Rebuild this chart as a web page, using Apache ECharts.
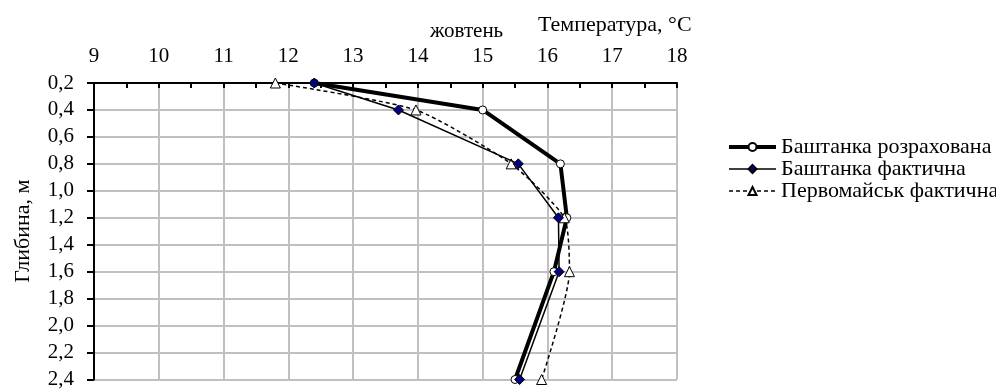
<!DOCTYPE html>
<html>
<head>
<meta charset="utf-8">
<script src="https://cdn.jsdelivr.net/npm/echarts@6/dist/echarts.min.js"></script>
<style>
html,body{margin:0;padding:0;background:#fff;}
#chart{width:996px;height:390px;}
</style>
</head>
<body>
<div id="chart"></div>
<script>
// Depths (m)
const depths = [0.2, 0.4, 0.8, 1.2, 1.6, 2.4];
// Temperatures (°C)
const bashtankaCalc = [12.4, 15.0, 16.2, 16.3, 16.1, 15.5];
const bashtankaFact = [12.4, 13.7, 15.55, 16.17, 16.18, 15.57];
const pervomaiskFact = [11.8, 13.97, 15.44, 16.26, 16.34, 15.91];
const seriesNames = ['Баштанка розрахована', 'Баштанка фактична', 'Первомайськ фактична'];
const xTitle = 'Температура, °C';
const monthLabel = 'жовтень';
const yTitle = 'Глибина, м';

const FONT = "'Liberation Serif', 'Times New Roman', serif";
const pair = (xs) => xs.map((v, i) => [v, depths[i]]);
const legendText = {fontFamily: FONT, fontSize: 22, lineHeight: 17, color: '#000'};

const chart = echarts.init(document.getElementById('chart'));
chart.setOption({
  animation: false,
  backgroundColor: '#fff',
  textStyle: {fontFamily: FONT, color: '#000'},
  grid: {left: 94, right: 319, top: 83, bottom: 6, containLabel: false},
  legend: {
    orient: 'vertical',
    left: 722, top: 131,
    itemWidth: 47, itemHeight: 10, itemGap: 0,
    textStyle: legendText,
    data: [
      {name: seriesNames[0], lineStyle: {width: 4}, textStyle: legendText},
      {name: seriesNames[1], lineStyle: {width: 1.5}, textStyle: legendText},
      {name: seriesNames[2], lineStyle: {width: 1.5}, textStyle: legendText}
    ]
  },
  xAxis: {
    type: 'value', position: 'top',
    min: 9, max: 18, interval: 1,
    axisLine: {show: true, onZero: false, lineStyle: {color: '#000', width: 2}},
    axisTick: {show: true, inside: true, length: 5, lineStyle: {color: '#000', width: 2}},
    minorTick: {show: true, splitNumber: 2, length: 5, lineStyle: {color: '#000', width: 2}},
    axisLabel: {fontFamily: FONT, fontSize: 21, color: '#000', margin: 16},
    splitLine: {show: true, lineStyle: {color: '#c0c0c0', width: 2}}
  },
  yAxis: {
    type: 'value', inverse: true,
    min: 0.2, max: 2.4, interval: 0.2,
    name: yTitle, nameLocation: 'middle', nameRotate: 90, nameGap: 60,
    nameTextStyle: {fontFamily: FONT, fontSize: 22, color: '#000'},
    axisLine: {show: true, onZero: false, lineStyle: {color: '#000', width: 2}},
    axisTick: {show: true, length: 7, lineStyle: {color: '#000', width: 2}},
    axisLabel: {fontFamily: FONT, fontSize: 21, color: '#000', margin: 20,
      formatter: v => v.toFixed(1).replace('.', ',')},
    splitLine: {show: true, lineStyle: {color: '#c0c0c0', width: 2}}
  },
  graphic: [
    {type: 'text', left: 430, top: 21, style: {text: monthLabel, fontFamily: FONT, fontSize: 21, fill: '#000'}},
    {type: 'text', left: 538, top: 14, style: {text: xTitle, fontFamily: FONT, fontSize: 22, fill: '#000'}}
  ],
  series: [
    {
      name: seriesNames[0], type: 'line', data: pair(bashtankaCalc), z: 2,
      symbol: 'circle', symbolSize: 8,
      lineStyle: {color: '#000', width: 4},
      itemStyle: {color: '#fff', borderColor: '#000', borderWidth: 1}
    },
    {
      name: seriesNames[1], type: 'line', data: pair(bashtankaFact), z: 4,
      symbol: 'diamond', symbolSize: 10,
      lineStyle: {color: '#000', width: 1.5},
      itemStyle: {color: '#000080', borderColor: '#000', borderWidth: 1}
    },
    {
      name: seriesNames[2], type: 'line', data: pair(pervomaiskFact), z: 3,
      symbol: 'triangle', symbolSize: 10, smooth: 0.2,
      lineStyle: {color: '#000', width: 1.5, type: [4, 3]},
      itemStyle: {color: '#fff', borderColor: '#000', borderWidth: 1}
    }
  ]
});
</script>
</body>
</html>
